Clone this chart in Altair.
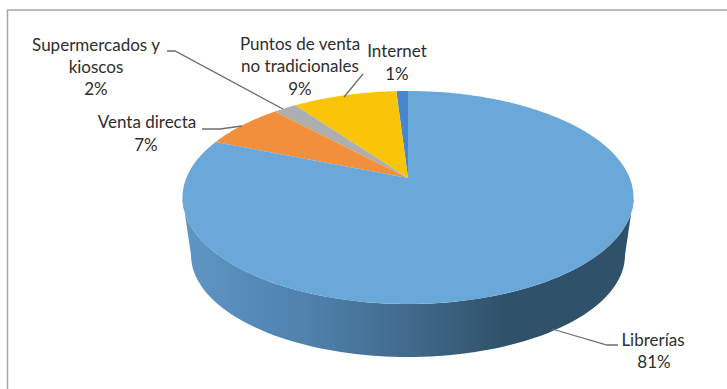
import math
import altair as alt
import pandas as pd

# Shares of book sales by channel, counter-clockwise from twelve o'clock
channels = ["Internet", "Puntos de venta no tradicionales", "Supermercados y kioscos", "Venta directa", "Librerías"]
shares = [1, 9, 2, 7, 81]
slice_colors = ["#4a86cf", "#fac408", "#aeaeae", "#f08f3c", "#6aa8da"]

label_lines = [
    ("Supermercados y", 96, 46), ("kioscos", 96, 68), ("2%", 96, 90),
    ("Puntos de venta", 300, 45), ("no tradicionales", 300, 67), ("9%", 300, 90),
    ("Internet", 397, 52), ("1%", 397, 75),
    ("Venta directa", 147, 123), ("7%", 146, 146),
    ("Librerías", 653, 341), ("81%", 654, 363),
]
leaders = {
    "Supermercados": [(167, 51), (175, 51), (283, 109)],
    "Puntos": [(363, 74), (344, 97)],
    "Venta": [(202, 129), (220, 129), (242, 126)],
    "Librerias": [(618, 345), (607, 345), (552, 329)],
}

W, H = 727, 389
CX, CY, RX, RY = 408, 197.5, 225.5, 106.5
BX, BY, BRX, BRY = 408, 255, 217, 102
APEX_Y = 178
TILT = 0.825  # foreshortening of rim angles caused by the perspective view


def rim(theta_deg):
    """Rim point of the tilted pie, for a clockwise angle from the top."""
    half = math.radians(theta_deg) / 2
    t = 2 * math.atan2(TILT * math.sin(half), math.cos(half))
    return CX + RX * math.sin(t), CY - RY * math.cos(t)


# Slices run counter-clockwise from the top; Librerías closes the disc
rows = []
start = 0.0
for name, share in zip(channels, shares):
    sweep = share * 3.6
    pts = [(408, APEX_Y)]
    n = max(4, int(sweep))
    for i in range(n + 1):
        pts.append(rim(-(start + sweep * i / n)))
    pts.append((408, APEX_Y))
    for i, (x, y) in enumerate(pts):
        rows.append({"channel": name, "x": x, "y": y, "i": i})
    start += sweep
slices = pd.DataFrame(rows)

# Visible side wall: front half of the top rim, then back along the bottom rim
wall = []
for d in range(0, 181, 2):
    a = math.radians(d)
    wall.append((CX - RX * math.cos(a), CY + RY * math.sin(a)))
for d in range(180, -1, -2):
    a = math.radians(d)
    wall.append((BX - BRX * math.cos(a), BY + BRY * math.sin(a)))
wall_df = pd.DataFrame([{"x": x, "y": y, "i": i} for i, (x, y) in enumerate(wall)])

x_scale = alt.Scale(domain=[0, W], range=[0, W], nice=False, zero=False)
y_scale = alt.Scale(domain=[0, H], range=[0, H], nice=False, zero=False)
X = alt.X("x:Q", scale=x_scale, axis=None)
Y = alt.Y("y:Q", scale=y_scale, axis=None)

side_fill = alt.Gradient(
    gradient="linear", x1=0, x2=1, y1=0, y2=0,
    stops=[
        alt.GradientStop(color="#5f96c6", offset=0),
        alt.GradientStop(color="#4f82ad", offset=0.27),
        alt.GradientStop(color="#416a8c", offset=0.5),
        alt.GradientStop(color="#2f5169", offset=0.72),
        alt.GradientStop(color="#2f5169", offset=1),
    ],
)
side = alt.Chart(wall_df).mark_line(filled=True, fill=side_fill, strokeWidth=0, interpolate="linear").encode(
    x=X, y=Y, order="i:Q"
)

top = alt.Chart(slices).mark_line(filled=True, strokeWidth=0).encode(
    x=X, y=Y, order="i:Q",
    detail="channel:N",
    fill=alt.Fill("channel:N", scale=alt.Scale(domain=channels, range=slice_colors), legend=None),
)

leader_df = pd.DataFrame(
    [{"k": k, "x": x, "y": y, "i": i} for k, v in leaders.items() for i, (x, y) in enumerate(v)]
)
leader_marks = alt.Chart(leader_df).mark_line(color="#6e6e6e", strokeWidth=1.3).encode(
    x=X, y=Y, order="i:Q", detail="k:N"
)

label_df = pd.DataFrame(label_lines, columns=["t", "x", "y"])
labels = alt.Chart(label_df).mark_text(
    font="Lato", fontSize=17, color="#2e2e2e", align="center", baseline="middle"
).encode(x=X, y=Y, text="t:N")

frame_df = pd.DataFrame({"x": [7.5, 7.5, 727], "y": [389, 10, 10], "i": [0, 1, 2]})
frame = alt.Chart(frame_df).mark_line(color="#a6a6a6", strokeWidth=1.5).encode(x=X, y=Y, order="i:Q")

chart = alt.layer(frame, side, top, leader_marks, labels).properties(
    width=W, height=H, padding=0, autosize=alt.AutoSizeParams(type="none"), background="#ffffff"
).configure_view(stroke=None)

chart.save("out.html", embed_options={"renderer": "svg", "actions": False})
